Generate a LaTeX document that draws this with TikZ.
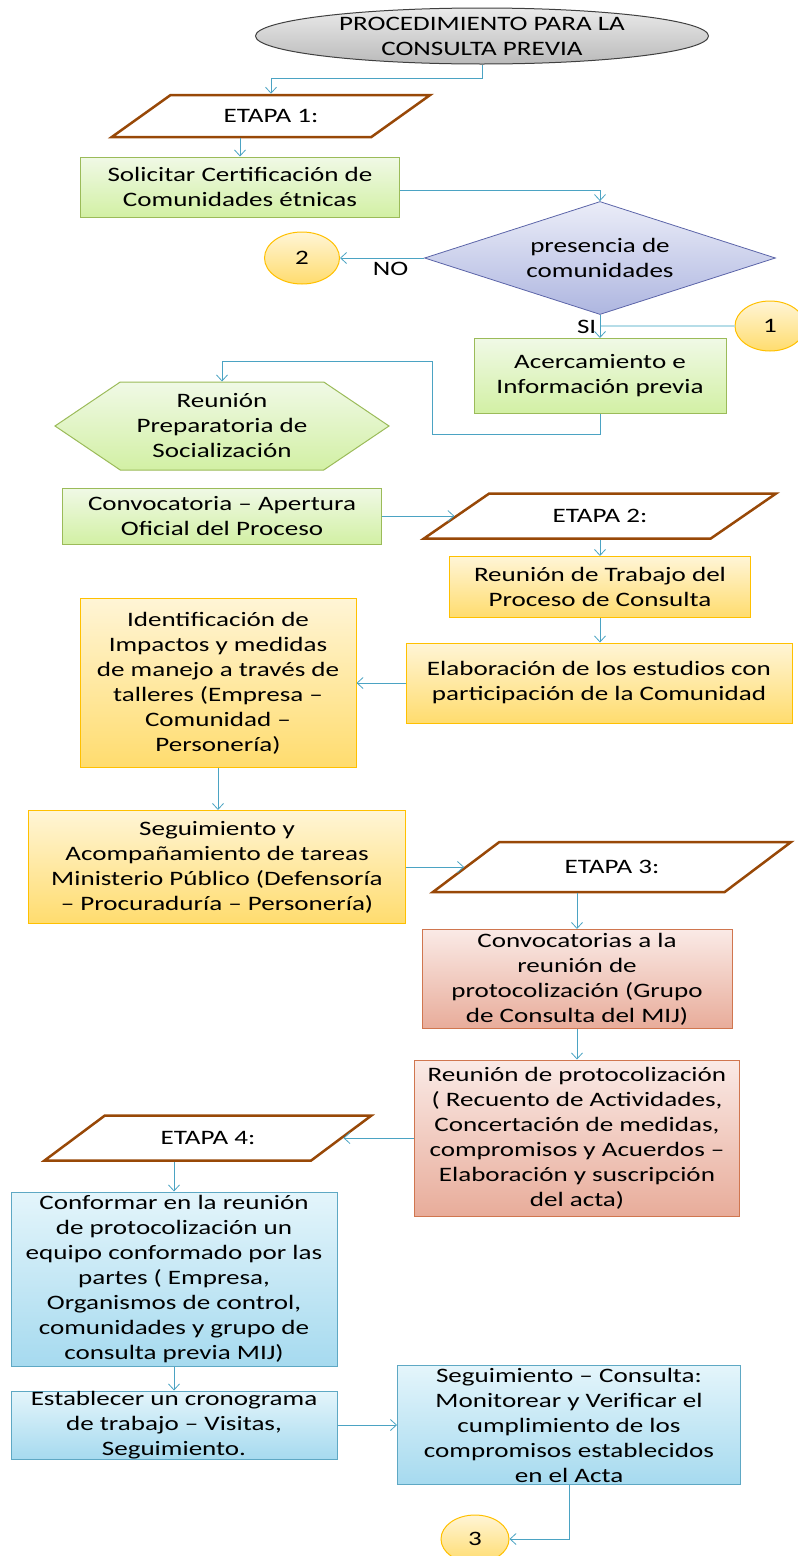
\documentclass[tikz,border=0pt]{standalone}
\usepackage{fontspec}
\setmainfont{Carlito}[FakeStretch=1.32]
\usepackage{tikz}
\usetikzlibrary{shapes.geometric, shapes.symbols, arrows.meta, positioning}
\definecolor{linkblue}{HTML}{4BA3C3}
\definecolor{paleblue}{HTML}{B6DDE8}
\definecolor{stagebrown}{HTML}{984807}
\definecolor{greenline}{HTML}{9BBB59}
\definecolor{greentop}{HTML}{F0F9E6}
\definecolor{greenbot}{HTML}{D2F0A4}
\definecolor{yellowline}{HTML}{FFC000}
\definecolor{yellowtop}{HTML}{FFF5D6}
\definecolor{yellowbot}{HTML}{FFDC6E}
\definecolor{redline}{HTML}{D0764F}
\definecolor{redtop}{HTML}{FAEAE6}
\definecolor{redbot}{HTML}{E8AC9A}
\definecolor{blueline}{HTML}{5EA8C4}
\definecolor{bluetop}{HTML}{E4F5FB}
\definecolor{bluebot}{HTML}{A6DAEF}
\definecolor{lilacline}{HTML}{5B64A8}
\definecolor{lilactop}{HTML}{EBEDF8}
\definecolor{lilacbot}{HTML}{AEB6E0}
\tikzstyle{box} = [rectangle, draw, align=center, inner xsep=2pt, inner ysep=0pt, font=\fontsize{20.5pt}{25pt}\selectfont]
\tikzstyle{greenbox} = [box, draw=greenline, line width=1pt, top color=greentop, bottom color=greenbot]
\tikzstyle{yellowbox} = [box, draw=yellowline, line width=1pt, top color=yellowtop, bottom color=yellowbot]
\tikzstyle{redbox} = [box, draw=redline, line width=1pt, top color=redtop, bottom color=redbot]
\tikzstyle{bluebox} = [box, draw=blueline, line width=1pt, top color=bluetop, bottom color=bluebot]
\tikzstyle{stage} = [trapezium, trapezium left angle=34, trapezium right angle=146, trapezium stretches=true, draw=stagebrown, line width=2.5pt, fill=white, font=\fontsize{20.5pt}{25pt}\selectfont]
\tikzstyle{connector} = [ellipse, draw=yellowline, line width=1pt, top color=yellowtop, bottom color=yellowbot, inner sep=0pt, font=\fontsize{20.5pt}{25pt}\selectfont]
\tikzstyle{link} = [draw=linkblue, line width=0.8pt, ->]

\begin{document}
\begin{tikzpicture}[>={Straight Barb[length=6pt,width=11pt]}]
    \useasboundingbox (0pt,0pt) rectangle (798pt,-1556pt);

    % etapa 1
    \node[ellipse, draw=black!75, line width=1pt, top color=black!8, bottom color=black!27, minimum width=453pt, minimum height=56pt, inner xsep=0pt, inner ysep=-5pt, align=center, font=\fontsize{20.5pt}{25pt}\selectfont] (title) at (482pt,-36pt) {PROCEDIMIENTO PARA LA\\CONSULTA PREVIA};
    \node[stage, below of=title, node distance=80pt, xshift=-211pt, minimum width=319pt, minimum height=42pt] (etapa1) {ETAPA 1:};
    \node[greenbox, below of=etapa1, node distance=71pt, xshift=-31pt, minimum width=319pt, minimum height=60pt] (solicitar) {Solicitar Certificación de\\Comunidades étnicas};
    \node[diamond, aspect=3.1, draw=lilacline, line width=0.8pt, top color=lilactop, bottom color=lilacbot, inner sep=0pt, minimum width=351pt, minimum height=113pt, align=center, font=\fontsize{20.5pt}{25pt}\selectfont, below of=solicitar, node distance=71pt, xshift=360pt] (presencia) {presencia de\\comunidades};
    \node[connector, left of=presencia, node distance=298pt, minimum width=75pt, minimum height=52pt] (circ2) {2};
    \node[connector, below of=presencia, node distance=68pt, xshift=170pt, minimum width=70pt, minimum height=50pt] (circ1) {1};
    \node[greenbox, below of=presencia, node distance=118pt, minimum width=252pt, minimum height=75pt] (acercamiento) {Acercamiento e\\Información previa};
    \node[signal, signal to=west and east, signal pointer angle=68, draw=greenline, line width=1pt, top color=greentop, bottom color=greenbot, inner sep=0pt, minimum width=334pt, minimum height=88pt, align=center, font=\fontsize{20.5pt}{25pt}\selectfont, below of=acercamiento, node distance=50pt, xshift=-378pt] (reunionprep) {Reunión\\Preparatoria de\\Socialización};
    \node[greenbox, below of=reunionprep, node distance=90pt, minimum width=319pt, minimum height=56pt] (convocatoria) {Convocatoria – Apertura\\Oficial del Proceso};

    % etapa 2
    \node[stage, right of=convocatoria, node distance=378pt, minimum width=353pt, minimum height=45pt] (etapa2) {ETAPA 2:};
    \node[yellowbox, below of=etapa2, node distance=71pt, minimum width=301pt, minimum height=61pt] (trabajo) {Reunión de Trabajo del\\Proceso de Consulta};
    \node[yellowbox, below of=trabajo, node distance=96pt, xshift=-1pt, minimum width=386pt, minimum height=80pt] (elaboracion) {Elaboración de los estudios con\\participación de la Comunidad};
    \node[yellowbox, left of=elaboracion, node distance=381pt, minimum width=276pt, minimum height=169pt] (identificacion) {Identificación de\\Impactos y medidas\\de manejo a través de\\talleres (Empresa –\\Comunidad –\\Personería)};
    \node[yellowbox, below of=identificacion, node distance=184pt, xshift=-1pt, minimum width=377pt, minimum height=113pt] (seguimiento) {Seguimiento y\\Acompañamiento de tareas\\Ministerio Público (Defensoría\\– Procuraduría – Personería)};

    % etapa 3
    \node[stage, right of=seguimiento, node distance=395pt, minimum width=359pt, minimum height=50pt] (etapa3) {ETAPA 3:};
    \node[redbox, below of=etapa3, node distance=112pt, xshift=-35pt, minimum width=310pt, minimum height=99pt] (convocatorias) {Convocatorias a la\\reunión de\\protocolización (Grupo\\de Consulta del MIJ)};
    \node[redbox, below of=convocatorias, node distance=159pt, minimum width=325pt, minimum height=156pt] (protocolizacion) {Reunión de protocolización\\( Recuento de Actividades,\\Concertación de medidas,\\compromisos y Acuerdos –\\Elaboración y suscripción\\del acta)};

    % etapa 4
    \node[stage, left of=protocolizacion, node distance=369pt, minimum width=327pt, minimum height=45pt] (etapa4) {ETAPA 4:};
    \node[bluebox, below of=etapa4, node distance=141pt, xshift=-34pt, minimum width=326pt, minimum height=174pt] (conformar) {Conformar en la reunión\\de protocolización un\\equipo conformado por las\\partes ( Empresa,\\Organismos de control,\\comunidades y grupo de\\consulta previa MIJ)};
    \node[bluebox, below of=conformar, node distance=146pt, minimum width=326pt, minimum height=68pt] (establecer) {Establecer un cronograma\\de trabajo – Visitas,\\Seguimiento.};
    \node[bluebox, right of=establecer, node distance=395pt, minimum width=343pt, minimum height=119pt] (segconsulta) {Seguimiento – Consulta:\\Monitorear y Verificar el\\cumplimiento de los\\compromisos establecidos\\en el Acta};
    \node[connector, below of=segconsulta, node distance=114pt, xshift=-94pt, minimum width=68pt, minimum height=48pt] (circ3) {3};

    % conectores
    \draw[link] (title.south) -- ++(0,-14pt) -| (etapa1.north);
    \draw[link] (solicitar.north |- etapa1.south) -- (solicitar.north);
    \draw[link] ([yshift=-3pt]solicitar.east) -| (presencia.north);
    \draw[link] (presencia.west) -- node[below, pos=0.4, font=\fontsize{20.5pt}{25pt}\selectfont] {NO} (circ2.east);
    \draw[draw=paleblue, line width=2pt] (circ1.west) -- (circ1.west -| presencia.south);
    \draw[link] (presencia.south) -- node[left, font=\fontsize{20.5pt}{25pt}\selectfont] {SI} (acercamiento.north);
    \draw[link] (acercamiento.south) -- ++(0,-20pt) -- ++(-168pt,0) |- ([yshift=20pt]reunionprep.north) -- (reunionprep.north);
    \draw[link] (convocatoria.east) -- (etapa2.left side);
    \draw[link] (trabajo.north |- etapa2.south) -- (trabajo.north);
    \draw[link] (trabajo.south) -- (trabajo.south |- elaboracion.north);
    \draw[link] (elaboracion.west) -- (elaboracion.west -| identificacion.east);
    \draw[link] (identificacion.south) -- (identificacion.south |- seguimiento.north);
    \draw[link] (seguimiento.east) -- (etapa3.left side);
    \draw[link] (convocatorias.north |- etapa3.south) -- (convocatorias.north);
    \draw[link] (convocatorias.south) -- (protocolizacion.north);
    \draw[link] (protocolizacion.west) -- (etapa4.right side);
    \draw[link] (conformar.north |- etapa4.south) -- (conformar.north);
    \draw[link] (conformar.south) -- (establecer.north);
    \draw[link] (establecer.east) -- (segconsulta.west);
    \draw[link] (segconsulta.south) |- (circ3.east);
\end{tikzpicture}
\end{document}
